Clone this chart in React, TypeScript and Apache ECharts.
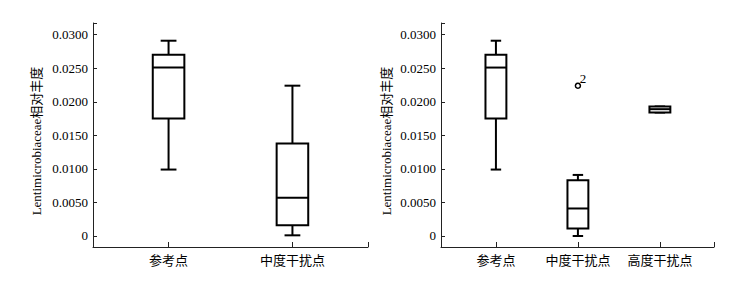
import React, { useEffect, useRef } from 'react';
import * as echarts from 'echarts';

const leftCategories = ['参考点', '中度干扰点'];
const rightCategories = ['参考点', '中度干扰点', '高度干扰点'];
// each box: [min, Q1, median, Q3, max]
const leftBoxes = [
  [0.0099, 0.0175, 0.0251, 0.027, 0.0291],
  [0.0001, 0.0016, 0.0057, 0.0138, 0.0224],
];
const rightBoxes = [
  [0.0099, 0.0175, 0.0251, 0.027, 0.0291],
  [0.0, 0.0011, 0.0041, 0.0083, 0.0091],
  [0.0184, 0.0184, 0.0189, 0.0193, 0.0193],
];
// [category index, value]
const rightOutliers = [[1, 0.0224]];
const rightOutlierLabels = ['2'];
const yTickValues = [0, 0.005, 0.01, 0.015, 0.02, 0.025, 0.03];
const yAxisName = 'Lentimicrobiaceae相对丰度';

const FONT = "'Liberation Serif', 'Noto Sans CJK SC', serif";
const Y_MIN = -0.00164;
const Y_MAX = 0.03174;

const renderBox = (_params: any, api: any) => {
  const x = api.value(0);
  const pMin = api.coord([x, api.value(1)]);
  const pQ1 = api.coord([x, api.value(2)]);
  const pMed = api.coord([x, api.value(3)]);
  const pQ3 = api.coord([x, api.value(4)]);
  const pMax = api.coord([x, api.value(5)]);
  const w = api.size([1, 0])[0] * 0.255;
  const cx = pMin[0];
  const style = { stroke: '#000', lineWidth: 2, fill: 'none' };
  return {
    type: 'group',
    children: [
      { type: 'line', shape: { x1: cx, y1: pMax[1], x2: cx, y2: pQ3[1] }, style },
      { type: 'line', shape: { x1: cx - w / 4, y1: pMax[1], x2: cx + w / 4, y2: pMax[1] }, style },
      { type: 'line', shape: { x1: cx, y1: pQ1[1], x2: cx, y2: pMin[1] }, style },
      { type: 'line', shape: { x1: cx - w / 4, y1: pMin[1], x2: cx + w / 4, y2: pMin[1] }, style },
      {
        type: 'rect',
        shape: { x: cx - w / 2, y: pQ3[1], width: w, height: pQ1[1] - pQ3[1] },
        style: { ...style, fill: '#fff' },
      },
      { type: 'line', shape: { x1: cx - w / 2, y1: pMed[1], x2: cx + w / 2, y2: pMed[1] }, style },
    ],
  };
};

const makeX = (gridIndex: number, cats: string[], min: number, max: number) => ({
  type: 'value',
  gridIndex,
  min,
  max,
  splitLine: { show: false },
  axisLine: { show: true, onZero: false, lineStyle: { color: '#222', width: 1 } },
  axisTick: {
    show: true,
    inside: true,
    length: 5,
    customValues: [...cats.map((_, i) => i), max],
    lineStyle: { color: '#222', width: 1 },
  },
  axisLabel: {
    show: true,
    customValues: cats.map((_, i) => i),
    formatter: (v: number) => cats[Math.round(v)] ?? '',
    color: '#000',
    fontSize: 13,
    fontFamily: FONT,
    margin: 7,
  },
});

const makeY = (gridIndex: number, nameGap: number) => ({
  type: 'value',
  gridIndex,
  min: Y_MIN,
  max: Y_MAX,
  name: yAxisName,
  nameLocation: 'middle',
  nameGap,
  nameRotate: 90,
  nameTextStyle: { color: '#000', fontSize: 13, fontFamily: FONT, padding: [0, 12, 0, 0] },
  splitLine: { show: false },
  axisLine: { show: true, onZero: false, lineStyle: { color: '#222', width: 1 } },
  axisTick: {
    show: true,
    inside: true,
    length: 4,
    customValues: [...yTickValues, Y_MAX],
    lineStyle: { color: '#222', width: 1 },
  },
  axisLabel: {
    show: true,
    customValues: yTickValues,
    formatter: (v: number) => (Math.abs(v) < 1e-9 ? '0' : v.toFixed(4)),
    color: '#000',
    fontSize: 13,
    fontFamily: FONT,
    margin: 5,
  },
});

export default function App() {
  const ref = useRef<HTMLDivElement>(null);
  useEffect(() => {
    document.body.style.margin = '0';
    if (!ref.current) return;
    const chart = echarts.init(ref.current, null, { renderer: 'svg' });
    chart.setOption({
      animation: false,
      backgroundColor: '#fff',
      grid: [
        { left: 93, top: 23, width: 275, height: 224 },
        { left: 441, top: 23, width: 273, height: 224 },
      ],
      xAxis: [makeX(0, leftCategories, -0.61, 1.61), makeX(1, rightCategories, -0.67, 2.66)],
      yAxis: [makeY(0, 50), makeY(1, 48)],
      series: [
        {
          type: 'custom',
          xAxisIndex: 0,
          yAxisIndex: 0,
          renderItem: renderBox,
          encode: { x: 0, y: [1, 2, 3, 4, 5] },
          data: leftBoxes.map((b, i) => [i, ...b]),
        },
        {
          type: 'custom',
          xAxisIndex: 1,
          yAxisIndex: 1,
          renderItem: renderBox,
          encode: { x: 0, y: [1, 2, 3, 4, 5] },
          data: rightBoxes.map((b, i) => [i, ...b]),
        },
        {
          type: 'scatter',
          xAxisIndex: 1,
          yAxisIndex: 1,
          symbol: 'circle',
          symbolSize: 5,
          z: 5,
          itemStyle: { color: '#fff', borderColor: '#000', borderWidth: 1.5, opacity: 1 },
          label: {
            show: true,
            position: [5, -10],
            formatter: (p: any) => rightOutlierLabels[p.dataIndex],
            color: '#000',
            fontSize: 13,
            fontFamily: FONT,
          },
          data: rightOutliers,
        },
      ],
    });
    return () => chart.dispose();
  }, []);
  return (
    <div
      ref={ref}
      style={{ position: 'absolute', left: 0, top: 0, width: 740, height: 285 }}
    />
  );
}
